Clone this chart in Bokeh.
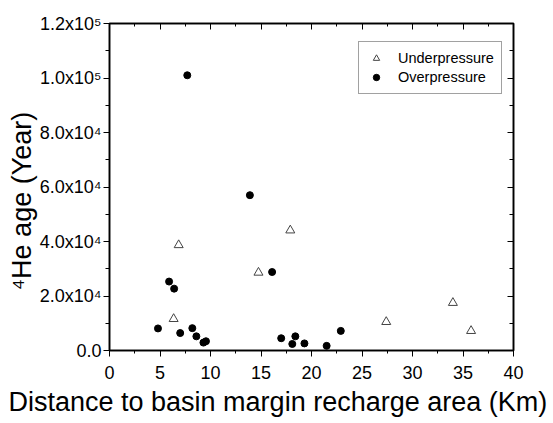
from bokeh.plotting import figure
from bokeh.models import (LinearAxis, SingleIntervalTicker, Legend, LegendItem,
                          Range1d, Title)
from bokeh.embed import file_html
from bokeh.resources import INLINE

# ---- data ----
over_x = [7.7, 13.9, 16.1, 5.9, 6.4, 4.8, 7.0, 8.2, 8.6, 9.3, 9.55, 17.0, 18.1, 18.4, 19.3, 21.5, 22.9]
over_y = [101000, 57000, 28800, 25300, 22700, 8100, 6400, 8200, 5200, 2900, 3400, 4500, 2400, 5200, 2600, 1700, 7200]
under_x = [6.85, 6.35, 14.75, 17.9, 27.4, 34.0, 35.8]
under_y = [38700, 11600, 28600, 44100, 10500, 17500, 7200]

y_tick_values = [0, 20000, 40000, 60000, 80000, 100000, 120000]
y_tick_labels = ["0.0", "2.0x10\u2074", "4.0x10\u2074", "6.0x10\u2074",
                 "8.0x10\u2074", "1.0x10\u2075", "1.2x10\u2075"]

x_label = "Distance to basin margin recharge area (Km)"
y_label = "\u2074He age (Year)"
series_names = ["Underpressure", "Overpressure"]

FONT = "Liberation Sans"

p = figure(width=553, height=423, output_backend="svg", toolbar_location=None,
           x_range=Range1d(0, 40), y_range=Range1d(0, 120000),
           min_border_left=109, min_border_right=40, min_border_top=23,
           min_border_bottom=73)
p.xgrid.visible = False
p.ygrid.visible = False
p.outline_line_color = "#111111"
p.outline_line_width = 2
p.background_fill_color = "white"
p.border_fill_color = "white"

# bottom axis
xa = p.xaxis[0]
xa.ticker = SingleIntervalTicker(interval=5, num_minor_ticks=2)
xa.major_label_text_font = FONT
xa.major_label_text_font_size = "18px"
xa.major_label_text_color = "black"
xa.major_label_standoff = 9
xa.major_tick_out = 6
xa.major_tick_in = 0
xa.minor_tick_out = 3
xa.minor_tick_in = 0
xa.axis_line_color = "black"
xa.major_tick_line_color = "black"
xa.minor_tick_line_color = "black"

# left axis
ya = p.yaxis[0]
ya.ticker = SingleIntervalTicker(interval=20000, num_minor_ticks=2)
ya.major_label_overrides = {v: s for v, s in zip(y_tick_values, y_tick_labels)}
ya.major_label_text_font = FONT
ya.major_label_text_font_size = "18px"
ya.major_label_text_color = "black"
ya.major_label_standoff = 2
ya.major_tick_out = 6
ya.major_tick_in = 0
ya.minor_tick_out = 4
ya.minor_tick_in = 0
ya.axis_line_color = "black"
ya.major_tick_line_color = "black"
ya.minor_tick_line_color = "black"

# axis titles as side titles, shifted to match the reference
p.add_layout(Title(text=x_label, align="left", offset=-101, text_font=FONT,
                   text_font_size="27px", text_font_style="normal",
                   text_color="black", standoff=7), "below")
p.add_layout(Title(text=y_label, align="left", offset=60, text_font=FONT,
                   text_font_size="27px", text_font_style="normal",
                   text_color="black", standoff=0), "left")

# mirrored axes (top, right) with inward ticks, no visible labels
top = LinearAxis(ticker=SingleIntervalTicker(interval=5, num_minor_ticks=2),
                 major_label_text_color=None, major_label_text_font_size="9px",
                 major_label_standoff=0,
                 major_tick_in=6, major_tick_out=0, minor_tick_in=3, minor_tick_out=0,
                 axis_line_color="black", major_tick_line_color="black",
                 minor_tick_line_color="black")
right = LinearAxis(ticker=SingleIntervalTicker(interval=20000, num_minor_ticks=2),
                   major_label_text_color=None, major_label_standoff=0,
                   major_tick_in=6, major_tick_out=0, minor_tick_in=4, minor_tick_out=0,
                   axis_line_color="black", major_tick_line_color="black",
                   minor_tick_line_color="black")
p.add_layout(top, "above")
p.add_layout(right, "right")

r_under = p.scatter(under_x, under_y, marker="triangle", size=9, fill_color=None,
                    line_color="#444444", line_width=1)
r_over = p.scatter(over_x, over_y, marker="circle", size=7, fill_color="black",
                   line_color="black")

legend = Legend(items=[LegendItem(label=series_names[0], renderers=[r_under]),
                       LegendItem(label=series_names[1], renderers=[r_over])],
                location=(249, 256), padding=7, spacing=1, label_height=18,
                glyph_height=16, glyph_width=20, label_standoff=12,
                label_text_font=FONT, label_text_font_size="14.5px",
                label_text_color="black", border_line_color="#444444",
                border_line_width=1, background_fill_alpha=1, margin=0)
p.add_layout(legend, "center")

open("out.html", "w").write(file_html(p, INLINE))
